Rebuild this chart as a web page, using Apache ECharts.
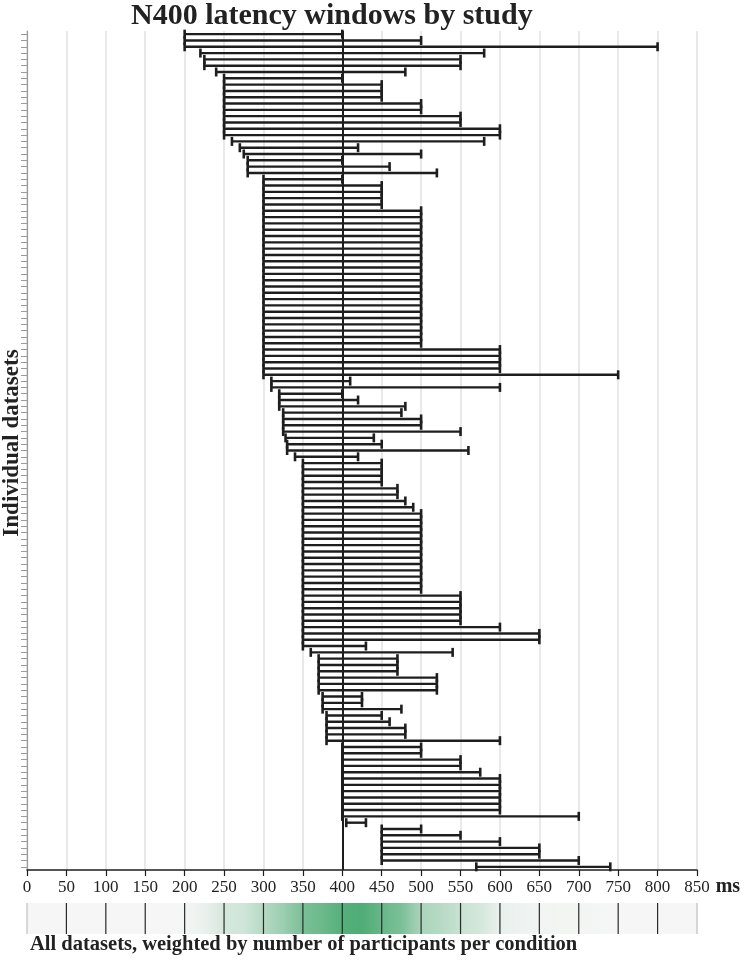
<!DOCTYPE html>
<html><head><meta charset="utf-8">
<script src="https://cdn.jsdelivr.net/npm/echarts@6/dist/echarts.min.js"></script>
<style>html,body{margin:0;padding:0;background:#fff}#c{width:752px;height:961px}</style>
</head><body><div id="c"></div>
<script>
// Latency window start (ms) per dataset, top to bottom
const starts = [
  200,200,200,220,225,225,240,250,250,250,250,250,250,250,250,250,250,260,270,275,
  280,280,280,300,300,300,300,300,300,300,300,300,300,300,300,300,300,300,300,300,
  300,300,300,300,300,300,300,300,300,300,300,300,300,300,300,310,310,320,320,320,
  325,325,325,325,328,330,330,340,350,350,350,350,350,350,350,350,350,350,350,350,
  350,350,350,350,350,350,350,350,350,350,350,350,350,350,350,350,350,350,360,370,
  370,370,370,370,370,375,375,375,380,380,380,380,380,400,400,400,400,400,400,400,
  400,400,400,400,400,405,450,450,450,450,450,450,570
];
// Latency window end (ms) per dataset, top to bottom
const ends = [
  400,500,800,580,550,550,480,400,450,450,450,500,500,550,550,600,600,580,420,500,
  400,460,520,400,450,450,450,450,500,500,500,500,500,500,500,500,500,500,500,500,
  500,500,500,500,500,500,500,500,500,500,600,600,600,600,750,410,600,400,420,480,
  475,500,500,550,440,450,560,420,450,450,450,450,470,470,480,490,500,500,500,500,
  500,500,500,500,500,500,500,500,500,550,550,550,550,550,600,650,650,430,540,470,
  470,470,520,520,520,425,425,475,450,460,480,480,600,500,500,550,550,575,600,600,
  600,600,600,600,700,430,500,550,600,650,650,700,740
];
const xTicks = [0,50,100,150,200,250,300,350,400,450,500,550,600,650,700,750,800,850];
const referenceMs = 400;
// Weighted density strip, sampled every 25 ms (0..1)
const stripMs = [0,25,50,75,100,125,150,175,200,225,250,275,300,325,350,375,400,425,450,475,500,525,550,575,600,625,650,675,700,725,750,775,800,825,850];
const stripWeight = [0.0,0.0,0.0,0.0,0.0,0.0,0.0,0.0,0.01,0.07,0.2,0.23,0.4,0.55,0.75,0.84,0.97,1.0,0.86,0.74,0.45,0.38,0.28,0.2,0.07,0.05,0.03,0.02,0.02,0.01,0.0,0.0,0.0,0.0,0.0];

const titleText = 'N400 latency windows by study';
const yName = 'Individual datasets';
const stripLabel = 'All datasets, weighted by number of participants per condition';

const SERIF = '"Liberation Serif","DejaVu Serif",serif';
const lo = [246,246,246], hi = [80,173,118];
function wColor(w){
  const c = lo.map((v,i)=>Math.round(v + (hi[i]-v)*w));
  return 'rgb(' + c.join(',') + ')';
}

const cats = starts.map((_,i)=>String(i));
const intervalData = starts.map((s,i)=>[i, s, ends[i]]);
const stripData = [];
for (let k=0;k<stripMs.length-1;k++) stripData.push([stripMs[k], stripMs[k+1], stripWeight[k], stripWeight[k+1]]);

const chart = echarts.init(document.getElementById('c'), null, {renderer:'canvas'});
const INK = '#1e1e1e';
chart.setOption({
  animation:false,
  backgroundColor:'#fff',
  title:{text:titleText, left:126, top:-4, textStyle:{fontFamily:SERIF, fontWeight:'bold', fontSize:30, color:'#222'}},
  grid:[
    {left:27, right:55, top:31, bottom:91, containLabel:false},
    {left:27, right:55, top:903, height:31, containLabel:false}
  ],
  xAxis:[
    {type:'value', gridIndex:0, min:0, max:850, interval:50,
     axisLine:{show:true, lineStyle:{color:INK, width:1.5}},
     axisTick:{show:true, length:6, lineStyle:{color:INK, width:1.2}},
     axisLabel:{fontFamily:SERIF, fontSize:17, color:'#222', margin:9},
     splitLine:{show:true, lineStyle:{color:'#e2e2e2', width:1.5}},
     name:'ms', nameLocation:'end', nameGap:7,
     nameTextStyle:{fontFamily:SERIF, fontWeight:'bold', fontSize:20, color:'#222', verticalAlign:'top', padding:[7,0,0,0]}},
    {type:'value', gridIndex:1, min:0, max:850, show:false}
  ],
  yAxis:[
    {type:'category', gridIndex:0, data:cats, inverse:true,
     axisLine:{show:true, lineStyle:{color:'#9a9a9a', width:1.2}},
     axisTick:{show:true, interval:0, length:6, alignWithLabel:true, lineStyle:{color:'#9a9a9a', width:1}},
     axisLabel:{show:false}, splitLine:{show:false}},
    {type:'value', gridIndex:1, min:0, max:1, show:false}
  ],
  graphic:[
    {type:'text', x:12, y:443, rotation:Math.PI/2,
     style:{text:yName, fontFamily:SERIF, fontWeight:'bold', fontSize:23, fill:'#222', align:'center', verticalAlign:'middle'}},
    {type:'text', x:30, y:945,
     style:{text:stripLabel, fontFamily:SERIF, fontWeight:'bold', fontSize:20.5, fill:'#222', align:'left', verticalAlign:'middle'}}
  ],
  series:[
    {type:'custom', xAxisIndex:0, yAxisIndex:0, data:intervalData,
     encode:{x:[1,2], y:0}, clip:false,
     renderItem:function(params, api){
       const idx = api.value(0);
       const a = api.coord([api.value(1), idx]);
       const b = api.coord([api.value(2), idx]);
       const h = 4.5;
       const st = {stroke:INK, lineWidth:2.4};
       return {type:'group', children:[
         {type:'line', shape:{x1:a[0], y1:a[1], x2:b[0], y2:b[1]}, style:st},
         {type:'line', shape:{x1:a[0], y1:a[1]-h, x2:a[0], y2:a[1]+h}, style:{stroke:INK, lineWidth:2.6}},
         {type:'line', shape:{x1:b[0], y1:b[1]-h, x2:b[0], y2:b[1]+h}, style:{stroke:INK, lineWidth:2.6}}
       ]};
     },
     markLine:{silent:true, symbol:['none','none'], label:{show:false},
       lineStyle:{color:INK, width:2, type:'solid'}, data:[{xAxis:referenceMs}]},
     z:3},
    {type:'custom', xAxisIndex:1, yAxisIndex:1, data:stripData, encode:{x:[0,1]},
     renderItem:function(params, api){
       const p0 = api.coord([api.value(0), 0]);
       const p1 = api.coord([api.value(1), 1]);
       return {type:'rect', shape:{x:p0[0], y:p1[1], width:p1[0]-p0[0]+0.6, height:p0[1]-p1[1]},
         style:{fill:new echarts.graphic.LinearGradient(0,0,1,0,[
           {offset:0, color:wColor(api.value(2))},{offset:1, color:wColor(api.value(3))}])}};
     }, z:2},
    {type:'custom', xAxisIndex:1, yAxisIndex:1, data:xTicks.map(v=>[v]), encode:{x:0},
     renderItem:function(params, api){
       const v = api.value(0);
       const t = api.coord([v, 1]), b = api.coord([v, 0]);
       const edge = (v===xTicks[0] || v===xTicks[xTicks.length-1]);
       return {type:'line', shape:{x1:t[0], y1:t[1], x2:b[0], y2:b[1]},
         style:{stroke: edge ? '#b5b5b5' : '#2a2a2a', lineWidth: edge ? 1 : 1.2}};
     }, z:4}
  ]
});
</script>
</body></html>
